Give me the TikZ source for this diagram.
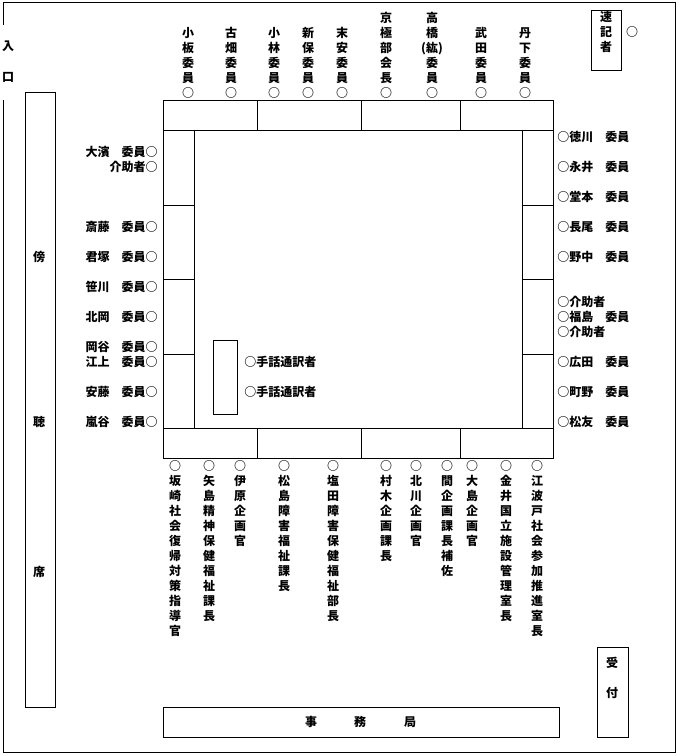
\documentclass[tikz,border=0pt]{standalone}
\usepackage{fontspec}
\newfontfamily\jp{Noto Sans CJK JP}

\begin{document}
\begin{tikzpicture}[x=1pt,y=-1pt,line width=0.9pt,
    every node/.style={inner sep=0pt,font={\jp\bfseries\fontsize{12}{15}\selectfont}},
    vlabel/.style={anchor=north,align=center}]
    \useasboundingbox (0,0) rectangle (680,756);
    % room
    \draw (3,25)--(3,2)--(675,2)--(675,752)--(3,752)--(3,100);
    \node (iri) at (8,46) {入};
    \node (guchi) at (8,77) {口};
    \draw (25,92) rectangle (55,707);
    \node (bo) at (39,257) {傍};
    \node (cho) at (39,422) {聴};
    \node (seki) at (39,572) {席};
    % table
    \draw (163,100) rectangle (553,458);
    \draw (163,130)--(553,130) (163,428)--(553,428);
    \draw (194,130)--(194,428) (522,130)--(522,428);
    \foreach \x in {257,361,460} \draw (\x,100)--(\x,130) (\x,428)--(\x,458);
    \foreach \y in {205,279,354} \draw (163,\y)--(194,\y) (522,\y)--(553,\y);
    \draw (213,340) rectangle (237,414);
    \node[anchor=west] (shuwa1) at (244,362) {○手話通訳者};
    \node[anchor=west] (shuwa2) at (244,392) {○手話通訳者};
    % top row
    \node[vlabel] (koita) at (188,27) {小\\板\\委\\員\\○};
    \node[vlabel] (furuhata) at (231,27) {古\\畑\\委\\員\\○};
    \node[vlabel] (kobayashi) at (274,27) {小\\林\\委\\員\\○};
    \node[vlabel] (shinbo) at (308,27) {新\\保\\委\\員\\○};
    \node[vlabel] (sueyasu) at (342,27) {末\\安\\委\\員\\○};
    \node[vlabel] (kyogoku) at (386,12) {京\\極\\部\\会\\長\\○};
    \node[vlabel] (takahashi) at (432,12) {高\\橋\\(紘)\\委\\員\\○};
    \node[vlabel] (takeda) at (481,27) {武\\田\\委\\員\\○};
    \node[vlabel] (tange) at (525,27) {丹\\下\\委\\員\\○};
    \draw (591,10) rectangle (621,70);
    \node[vlabel] (sokki) at (606,11) {速\\記\\者};
    \node (sokkimaru) at (632,32) {○};
    % left side
    \node[anchor=east] (ohama) at (158,152) {大濱　委員○};
    \node[anchor=east] (kaijo1) at (158,167) {介助者○};
    \node[anchor=east] (saito) at (158,227) {斎藤　委員○};
    \node[anchor=east] (kimizuka) at (158,257) {君塚　委員○};
    \node[anchor=east] (sasagawa) at (158,287) {笹川　委員○};
    \node[anchor=east] (kitaoka) at (158,317) {北岡　委員○};
    \node[anchor=east] (okaya) at (158,347) {岡谷　委員○};
    \node[anchor=east] (egami) at (158,362) {江上　委員○};
    \node[anchor=east] (ando) at (158,392) {安藤　委員○};
    \node[anchor=east] (arashiya) at (158,422) {嵐谷　委員○};
    % right side
    \node[anchor=west] (tokugawa) at (557,137) {○徳川　委員};
    \node[anchor=west] (nagai) at (557,167) {○永井　委員};
    \node[anchor=west] (domoto) at (557,197) {○堂本　委員};
    \node[anchor=west] (nagao) at (557,227) {○長尾　委員};
    \node[anchor=west] (nonaka) at (557,257) {○野中　委員};
    \node[anchor=west] (kaijo2) at (557,302) {○介助者};
    \node[anchor=west] (fukushima) at (557,317) {○福島　委員};
    \node[anchor=west] (kaijo3) at (557,332) {○介助者};
    \node[anchor=west] (hirota) at (557,362) {○広田　委員};
    \node[anchor=west] (machino) at (557,392) {○町野　委員};
    \node[anchor=west] (matsutomo) at (557,422) {○松友　委員};
    % bottom row
    \node[vlabel] (sakazaki) at (175,460) {○\\坂\\崎\\社\\会\\復\\帰\\対\\策\\指\\導\\官};
    \node[vlabel] (yajima) at (209,460) {○\\矢\\島\\精\\神\\保\\健\\福\\祉\\課\\長};
    \node[vlabel] (ihara) at (240,460) {○\\伊\\原\\企\\画\\官};
    \node[vlabel] (matsushima) at (284,460) {○\\松\\島\\障\\害\\福\\祉\\課\\長};
    \node[vlabel] (shiota) at (333,460) {○\\塩\\田\\障\\害\\保\\健\\福\\祉\\部\\長};
    \node[vlabel] (muraki) at (386,460) {○\\村\\木\\企\\画\\課\\長};
    \node[vlabel] (kitagawa) at (416,460) {○\\北\\川\\企\\画\\官};
    \node[vlabel] (hazama) at (447,460) {○\\間\\企\\画\\課\\長\\補\\佐};
    \node[vlabel] (oshima) at (472,460) {○\\大\\島\\企\\画\\官};
    \node[vlabel] (kanai) at (506,460) {○\\金\\井\\国\\立\\施\\設\\管\\理\\室\\長};
    \node[vlabel] (ebato) at (537,460) {○\\江\\波\\戸\\社\\会\\参\\加\\推\\進\\室\\長};
    % secretariat and reception
    \draw (163,707) rectangle (559,737);
    \node (ji) at (311,722) {事};
    \node (mu) at (360,722) {務};
    \node (kyoku) at (410,722) {局};
    \draw (597,647) rectangle (628,737);
    \node (uke) at (612,663) {受};
    \node (tsuke) at (612,693) {付};
\end{tikzpicture}
\end{document}
